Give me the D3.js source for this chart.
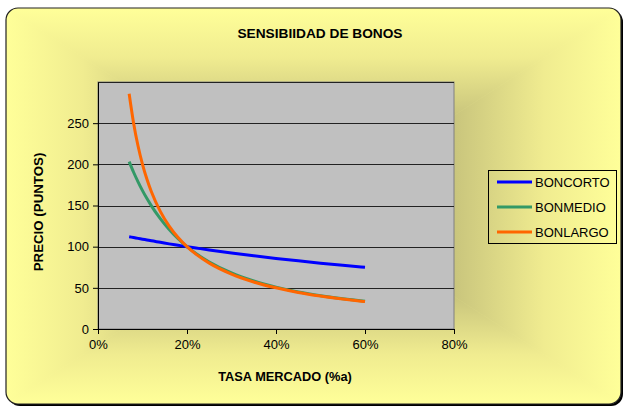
<!DOCTYPE html>
<html>
<head>
<meta charset="utf-8">
<script src="https://cdn.jsdelivr.net/npm/d3@7/dist/d3.min.js"></script>
<style>
  body { margin: 0; background: #fff; }
  svg { display: block; font-family: "Liberation Sans", Arial, sans-serif; }
</style>
</head>
<body>
<div class="chart"></div>
<script>
// data
const tasas = [0.07, 0.08, 0.09, 0.10, 0.11, 0.12, 0.14, 0.16, 0.18, 0.20, 0.22, 0.25, 0.30, 0.35, 0.40, 0.45, 0.50, 0.55, 0.60];
const bonCorto = [112.1, 111.1, 110.1, 109.1, 108.1, 107.1, 105.3, 103.4, 101.7, 100, 98.4, 96, 92.3, 88.9, 85.7, 82.8, 80, 77.4, 75];
const bonMedio = [203.3, 190.4, 178.8, 168.1, 158.4, 149.6, 134.0, 120.8, 109.6, 100, 91.7, 81.4, 68.1, 58.3, 50.9, 45.1, 40.5, 36.7, 33.6];
const bonLargo = [285.7, 250, 222.2, 200, 181.8, 166.7, 142.9, 125, 111.1, 100, 90.9, 80, 66.7, 57.1, 50, 44.4, 40, 36.4, 33.3];
const series = [
  { name: 'BONCORTO', values: bonCorto, color: '#0000ff' },
  { name: 'BONMEDIO', values: bonMedio, color: '#339966' },
  { name: 'BONLARGO', values: bonLargo, color: '#ff6600' }
];
const yTicks = [0, 50, 100, 150, 200, 250];
const xTicks = [0, 0.2, 0.4, 0.6, 0.8];

const width = 624, height = 408;
const margin = { top: 82, right: 170, bottom: 79, left: 98 };
const w = width - margin.left - margin.right;
const h = height - margin.top - margin.bottom;

const svg = d3.select('.chart').append('svg')
  .attr('width', width).attr('height', height);

// background: rectangular gradient from the centre, made of 4 triangles
const box = { x0: 6, y0: 8, x1: 621, y1: 404 };
const cx = (box.x0 + box.x1) / 2, cy = (box.y0 + box.y1) / 2;
const defs = svg.append('defs');
const stops = [[0, '#a8a46a'], [0.45, '#c8c47c'], [0.75, '#f0ec90'], [1, '#ffff99']];
const sides = [
  { id: 'gT', pts: [[box.x0, box.y0], [box.x1, box.y0], [cx, cy]], to: [cx, box.y0] },
  { id: 'gB', pts: [[box.x0, box.y1], [box.x1, box.y1], [cx, cy]], to: [cx, box.y1] },
  { id: 'gL', pts: [[box.x0, box.y0], [box.x0, box.y1], [cx, cy]], to: [box.x0, cy] },
  { id: 'gR', pts: [[box.x1, box.y0], [box.x1, box.y1], [cx, cy]], to: [box.x1, cy] }
];
sides.forEach(s => {
  const g = defs.append('linearGradient').attr('id', s.id)
    .attr('gradientUnits', 'userSpaceOnUse')
    .attr('x1', cx).attr('y1', cy).attr('x2', s.to[0]).attr('y2', s.to[1]);
  stops.forEach(st => g.append('stop').attr('offset', st[0]).attr('stop-color', st[1]));
});
defs.append('clipPath').attr('id', 'round')
  .append('rect').attr('x', box.x0).attr('y', box.y0)
  .attr('width', box.x1 - box.x0).attr('height', box.y1 - box.y0).attr('rx', 12);

// shadow
svg.append('rect').attr('x', box.x0 + 2).attr('y', box.y0 + 2)
  .attr('width', box.x1 - box.x0).attr('height', box.y1 - box.y0).attr('rx', 12)
  .attr('fill', '#000');
const bg = svg.append('g').attr('clip-path', 'url(#round)');
bg.append('rect').attr('x', box.x0).attr('y', box.y0)
  .attr('width', box.x1 - box.x0).attr('height', box.y1 - box.y0).attr('fill', '#ffff99');
sides.forEach(s => {
  bg.append('polygon').attr('points', s.pts.map(p => p.join(',')).join(' '))
    .attr('fill', `url(#${s.id})`).attr('stroke', `url(#${s.id})`).attr('stroke-width', 0.6);
});
svg.append('rect').attr('x', box.x0).attr('y', box.y0)
  .attr('width', box.x1 - box.x0).attr('height', box.y1 - box.y0).attr('rx', 12)
  .attr('fill', 'none').attr('stroke', '#222').attr('stroke-width', 1.2);

// title
svg.append('text').attr('x', 320).attr('y', 38).attr('text-anchor', 'middle')
  .style('font-size', '13.7px').style('font-weight', 'bold').text('SENSIBIIDAD DE BONOS');

const chart = svg.append('g').attr('transform', `translate(${margin.left},${margin.top})`);

const xScale = d3.scaleLinear().domain([0, 0.8]).range([0, w]);
const yScale = d3.scaleLinear().domain([0, 300]).range([h, 0]);

// plot area
chart.append('rect').attr('width', w).attr('height', h)
  .attr('fill', '#c0c0c0').attr('stroke', '#808080').attr('stroke-width', 1);

// gridlines
chart.append('g').selectAll('line').data(yTicks.concat([300]).filter(d => d > 0)).join('line')
  .attr('x1', 0).attr('x2', w)
  .attr('y1', d => Math.round(yScale(d)) + 0.5).attr('y2', d => Math.round(yScale(d)) + 0.5)
  .attr('stroke', '#222').attr('stroke-width', 1);

// axes
const xAxis = d3.axisBottom(xScale).tickValues(xTicks).tickFormat(d3.format('.0%'))
  .tickSizeInner(5).tickSizeOuter(0).tickPadding(4);
const yAxis = d3.axisLeft(yScale).tickValues(yTicks)
  .tickSizeInner(5).tickSizeOuter(0).tickPadding(4);

const xg = chart.append('g').attr('transform', `translate(0,${h})`).call(xAxis);
const yg = chart.append('g').call(yAxis);
[xg, yg].forEach(g => {
  g.selectAll('path, line').attr('stroke', '#000');
  g.selectAll('text').style('font-size', '13px').style('font-family', '"Liberation Sans", Arial, sans-serif').attr('fill', '#000');
});
xg.selectAll('text').attr('dy', '0.85em');

// axis titles
svg.append('text').attr('x', 285).attr('y', 381).attr('text-anchor', 'middle')
  .style('font-size', '12.8px').style('font-weight', 'bold').text('TASA MERCADO (%a)');
svg.append('text').attr('transform', 'translate(43,212) rotate(-90)').attr('text-anchor', 'middle')
  .style('font-size', '13.3px').style('font-weight', 'bold').text('PRECIO (PUNTOS)');

// lines
const line = d3.line()
  .x((d, i) => xScale(tasas[i]))
  .y(d => yScale(d))
  .curve(d3.curveMonotoneX);
chart.append('g').selectAll('path').data(series).join('path')
  .attr('d', d => line(d.values))
  .attr('fill', 'none')
  .attr('stroke', d => d.color)
  .attr('stroke-width', 3);

// legend
const legend = svg.append('g').attr('transform', 'translate(488,170)');
legend.append('rect').attr('x', 0.5).attr('y', 0.5).attr('width', 128).attr('height', 73)
  .attr('fill', 'none').attr('stroke', '#000').attr('stroke-width', 1);
const items = legend.selectAll('g.item').data(series).join('g')
  .attr('class', 'item')
  .attr('transform', (d, i) => `translate(0,${12 + i * 25})`);
items.append('line').attr('x1', 9).attr('x2', 44).attr('y1', 0).attr('y2', 0)
  .attr('stroke', d => d.color).attr('stroke-width', 3);
items.append('text').attr('x', 47).attr('y', 0).attr('dy', '0.36em')
  .style('font-size', '13px').text(d => d.name);
</script>
</body>
</html>
